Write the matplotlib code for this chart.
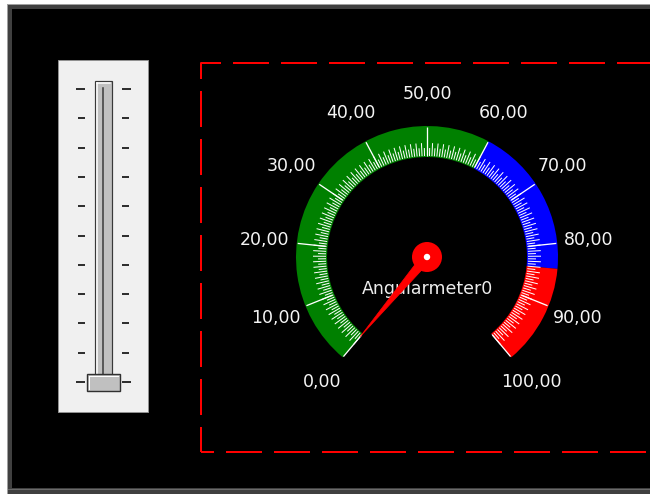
import numpy as np
import matplotlib.pyplot as plt
from matplotlib.patches import Rectangle, Wedge, Circle, Polygon
from matplotlib.collections import LineCollection

plt.rcParams['lines.scale_dashes'] = False

# gauge data
scale_min, scale_max = 0, 100
major_ticks = np.arange(0, 101, 10)
minor_ticks = np.arange(0, 100.5, 0.5)
band_starts = [0, 60, 84]
band_ends = [60, 84, 100]
band_colors = ['#008000', '#0000ff', '#ff0000']
needle_value = 0
gauge_name = 'Angularmeter0'

# slider data
slider_ticks = np.arange(0, 11)
slider_value = 0

# layout (pixels)
CX, CY = 427, 257
R_IN, R_OUT, R_LABEL = 100, 131, 163
START, SWEEP = 230, 280
PX = 0.72  # points per pixel at dpi 100


def ang(v):
    return START - SWEEP * (v - scale_min) / (scale_max - scale_min)


def pt(v, r):
    a = np.radians(ang(v))
    return CX + r * np.cos(a), CY - r * np.sin(a)


fig = plt.figure(figsize=(6.5, 4.94), dpi=100)
ax = fig.add_axes([0, 0, 1, 1])
ax.set_xlim(0, 650)
ax.set_ylim(494, 0)
ax.axis('off')

# window frame
ax.add_patch(Rectangle((7, 4), 700, 500, fc='#a0a0a0', ec='none'))
ax.add_patch(Rectangle((8, 5), 700, 500, fc='#404040', ec='none'))
ax.add_patch(Rectangle((12, 9), 700, 479, fc='black', ec='none'))
ax.add_patch(Rectangle((8, 489), 700, 1, fc='#6a6a6a', ec='none'))

# slider widget
ax.add_patch(Rectangle((58, 60), 90, 352, fc='#f0f0f0', ec='#909090', lw=PX))
ax.add_patch(Rectangle((95, 81), 17, 294, fc='#c0c0c0', ec='#383838', lw=1.2 * PX))
ax.plot([97, 97], [83, 374], color='white', lw=1.5 * PX)
ax.plot([97, 110], [83, 83], color='white', lw=1.5 * PX)
ax.plot([102.5, 102.5], [88, 374], color='#404040', lw=1.6 * PX)
slider_y = 382 - (slider_ticks - slider_ticks[0]) * 29.3
for i, y in enumerate(slider_y):
    end = i in (0, len(slider_y) - 1)
    ax.plot([77 if end else 79, 84], [y, y], color='#303030', lw=2 * PX)
    ax.plot([123, 130 if end else 128], [y, y], color='#303030', lw=2 * PX)
thumb_y = 382 - (slider_value - slider_ticks[0]) * 29.3
ax.add_patch(Rectangle((87, thumb_y - 8), 33, 17, fc='#c0c0c0', ec='#303030',
                       lw=1.4 * PX, zorder=3))
ax.plot([89, 118], [thumb_y - 6, thumb_y - 6], color='white', lw=PX, zorder=4)
ax.plot([89, 89], [thumb_y - 6, thumb_y + 7], color='white', lw=PX, zorder=4)

# dashed red frame
dash = (11 * PX, (36 * PX, 12 * PX))
ax.plot([201, 201, 660], [452, 63.5, 63.5], color='red', lw=2 * PX,
        linestyle=dash, solid_joinstyle='miter', dash_capstyle='butt')
ax.plot([201, 660], [452, 452], color='red', lw=2 * PX,
        linestyle=(23 * PX, (36 * PX, 12 * PX)), dash_capstyle='butt')

# colour bands
for v1, v2, c in zip(band_starts, band_ends, band_colors):
    ax.add_patch(Wedge((CX, CY), R_OUT, -ang(v1), -ang(v2),
                       width=R_OUT - R_IN, fc=c, ec='none', zorder=2))

# ticks
minor = [[pt(v, 101), pt(v, 114 if v % 1 == 0 else 109)] for v in minor_ticks]
ax.add_collection(LineCollection(minor, colors='white', linewidths=1.0 * PX, zorder=3))
major = [[pt(v, 102), pt(v, 130)] for v in major_ticks]
ax.add_collection(LineCollection(major, colors='white', linewidths=1.3 * PX, zorder=3))

# labels
for v in major_ticks:
    x, y = pt(v, R_LABEL)
    ax.text(x, y, f'{v:.2f}'.replace('.', ','), ha='center', va='center',
            color='#f4f4f4', fontsize=12.5)

ax.text(CX, 289, gauge_name, ha='center', va='center', color='#ececec',
        fontsize=12.5, zorder=4)

# needle
a = np.radians(ang(needle_value))
tip = pt(needle_value, 104)
nx, ny = -np.sin(a) * 5, -np.cos(a) * 5
ax.add_patch(Polygon([tip, (CX + nx, CY + ny), (CX - nx, CY - ny)],
                     closed=True, fc='red', ec='red', lw=0.5, zorder=5))
ax.add_patch(Circle((CX, CY), 15, fc='red', ec='none', zorder=6))
ax.add_patch(Circle((CX, CY), 3.2, fc='white', ec='none', zorder=7))

fig.savefig('out.png', dpi=100, facecolor='white')
